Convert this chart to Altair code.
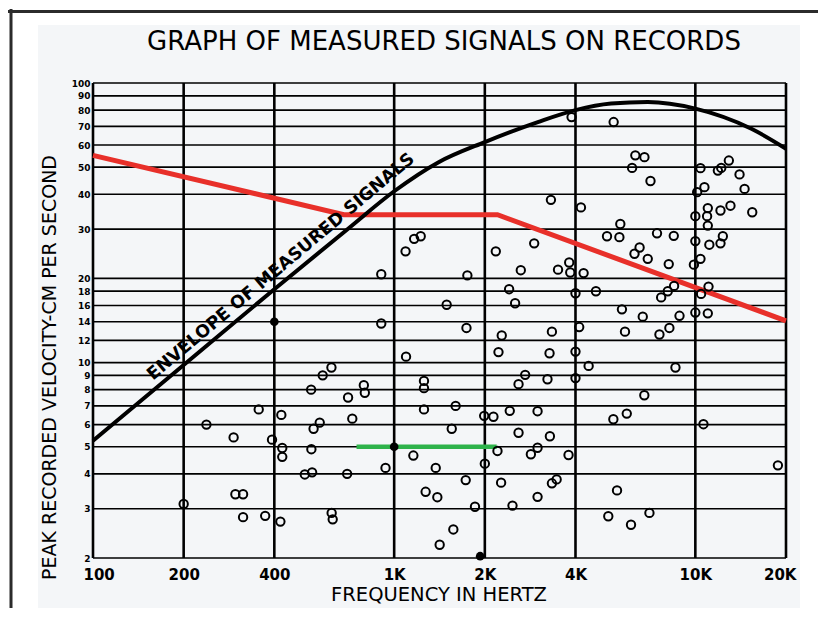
import altair as alt
import pandas as pd

# ---- measured signals (frequency in Hz, peak velocity in cm/s) ----
freq_hz = [200, 238, 293, 297, 315, 315, 355, 373, 393, 419, 422, 425, 425, 505, 531, 530, 534, 540, 566, 579,
           619, 620, 625, 698, 703, 726, 793, 799, 906, 906, 936, 1095, 1091, 1165, 1225, 1158, 1256, 1256, 1256,
           1272, 1374, 1391, 1416, 1494, 1553, 1572, 1600, 1728, 1738, 1750, 1855, 2000, 1990, 2136, 2175, 2203,
           2220, 2265, 2276, 2408, 2420, 2471, 2521, 2588, 2588, 2633, 2723, 2844, 2917, 2993, 2993, 2993, 3229,
           3280, 3289, 3315, 3340, 3340, 3463, 3500, 3793, 3812, 3843, 3882, 4000, 4000, 4000, 4115, 4170, 4256,
           4423, 4677, 5090, 5140, 5343, 5355, 5495, 5595, 5635, 5705, 5840, 5920, 6115, 6166, 6280, 6320, 6530,
           6690, 6770, 6776, 6950, 7040, 7097, 7460, 7600, 7700, 8100, 8160, 8200, 8480, 8500, 8590, 8860, 9890,
           10000, 10000, 10000, 10140, 10400, 10400, 10450, 10640, 10720, 10940, 11000, 11000, 11000, 11060,
           11130, 11880, 12120, 12120, 12190, 12340, 12920, 13080, 14020, 14570, 15450, 18800]
velocity = [3.12, 6.0, 5.4, 3.38, 3.38, 2.8, 6.8, 2.83, 5.3, 2.7, 6.5, 4.95, 4.6, 3.98, 4.9, 8.0, 4.05, 5.8, 6.1, 9.0,
            9.6, 2.9, 2.75, 4.0, 7.5, 6.3, 8.3, 7.8, 20.7, 13.8, 4.2, 10.5, 25.0, 27.7, 28.3, 4.65, 8.6, 8.1, 6.8,
            3.45, 4.2, 3.3, 2.23, 16.1, 5.8, 2.53, 7.0, 3.8, 13.3, 20.5, 3.05, 4.35, 6.45, 6.4, 25.0, 4.83,
            10.9, 3.72, 12.5, 18.3, 6.72, 3.08, 16.3, 8.37, 5.61, 21.4, 9.04, 4.70, 26.7, 6.7, 4.96, 3.31, 8.72,
            10.8, 5.45, 38.2, 12.9, 3.70, 3.82, 21.5, 4.67, 22.8, 21.0, 75.5, 17.7, 10.95, 8.8, 13.4, 35.9, 20.9,
            9.73, 18.0, 28.3, 2.82, 6.27, 72.5, 3.49, 28.1, 31.3, 15.5, 12.9, 6.57, 2.63, 49.7, 24.5, 55.1, 25.8,
            14.6, 7.64, 54.3, 23.5, 2.90, 44.6, 29.0, 12.6, 17.1, 18.0, 22.5, 13.3, 28.4, 18.8, 9.6, 14.7, 22.4,
            27.2, 33.4, 15.1, 40.7, 49.6, 23.5, 17.6, 6.02, 42.4, 33.4, 35.7, 30.9, 15.0, 18.7,
            26.4, 48.6, 26.7, 35.0, 49.7, 28.3, 52.8, 36.4, 47.1, 41.8, 34.5, 4.29]
filled_freq = [400, 1000, 1930]
filled_vel = [14.0, 5.0, 2.03]

# ---- envelope of measured signals ----
env_freq = [100, 200, 400, 700, 1000, 1400, 2000, 3000, 4000, 5250, 6950, 10000, 15350, 20000]
env_vel = [5.25, 9.8, 18.3, 30.0, 41.0, 52.0, 61.5, 72.5, 80.0, 84.4, 85.5, 81.0, 68.6, 58.2]

# ---- added red and green lines ----
red_freq = [100, 681, 2203, 20000]
red_vel = [55.1, 33.8, 33.8, 14.1]
green_freq = [750, 2190]
green_vel = [5.0, 5.0]

# ---- axes ----
x_ticks = [100, 200, 400, 1000, 2000, 4000, 10000, 20000]
x_tick_labels = ["100", "200", "400", "1K", "2K", "4K", "10K", "20K"]
y_ticks = [100, 90, 80, 70, 60, 50, 40, 30, 20, 18, 16, 14, 12, 10, 9, 8, 7, 6, 5, 4, 3, 2]

title_text = "GRAPH OF MEASURED SIGNALS ON RECORDS"
x_title = "FREQUENCY    IN    HERTZ"
y_title = "PEAK  RECORDED  VELOCITY-CM  PER  SECOND"
curve_label = "ENVELOPE  OF  MEASURED  SIGNALS"
curve_label_f = [421]
curve_label_v = [22.0]

FONT = "DejaVu Sans"
W, H = 693, 475

label_expr = "''"
for v, l in reversed(list(zip(x_ticks, x_tick_labels))):
    label_expr = f"datum.value == {v} ? '{l}' : ({label_expr})"

xs = alt.Scale(type="log", domain=[100, 20000], nice=False)
ys = alt.Scale(type="log", domain=[2, 100], nice=False)
x_axis = alt.Axis(values=x_ticks, labelExpr=label_expr, grid=False, domain=False, ticks=False,
                  labelFont=FONT, labelFontSize=15, labelFontWeight="bold", labelColor="black",
                  labelPadding=9, labelFlush=True, labelFlushOffset=10, labelOverlap=False, title=None,
                  zindex=1)
y_axis = alt.Axis(values=y_ticks, format="d", grid=False, domain=False, ticks=False, labelFont=FONT,
                  labelFontSize=9, labelFontWeight="bold", labelColor="black", labelPadding=3,
                  labelOverlap=False, title=None, zindex=1)


def X(field="f"):
    return alt.X(f"{field}:Q", scale=xs, axis=x_axis)


def Y(field="v"):
    return alt.Y(f"{field}:Q", scale=ys, axis=y_axis)


one = pd.DataFrame({"k": [0]})


def box(x0, x1, y0, y1, color):
    return alt.Chart(one).mark_rect(color=color, opacity=1).encode(
        x=alt.value(x0), x2=alt.value(x1), y=alt.value(y0), y2=alt.value(y1))


# the light scanned panel behind the chart, and the dark page frame (top and left edges)
panel = box(-55, 707, -58, 560, "#f4f6f8")
frame_left = box(-83.5, -80.5, -74, 560, "#2b2b2b")
frame_top = box(-85, 725, -73, -70, "#2b2b2b")

# grid lines (drawn as marks so the red line sits above them)
vgrid = alt.Chart(pd.DataFrame({"f": x_ticks})).mark_rule(color="black", strokeWidth=2.6).encode(x=X())
hgrid = alt.Chart(pd.DataFrame({"v": y_ticks})).mark_rule(color="black", strokeWidth=1.7).encode(y=Y())

red = alt.Chart(pd.DataFrame({"f": red_freq, "v": red_vel})).mark_line(
    color="#e8302a", strokeWidth=5).encode(x=X(), y=Y())
green = alt.Chart(pd.DataFrame({"f": green_freq, "v": green_vel})).mark_line(
    color="#2eb34b", strokeWidth=4.5).encode(x=X(), y=Y())
env = alt.Chart(pd.DataFrame({"f": env_freq, "v": env_vel})).mark_line(
    color="black", strokeWidth=4, interpolate="monotone").encode(x=X(), y=Y())

pts = alt.Chart(pd.DataFrame({"f": freq_hz, "v": velocity})).mark_point(
    shape="circle", filled=False, size=70, strokeWidth=2, color="black", opacity=1).encode(x=X(), y=Y())
dots = alt.Chart(pd.DataFrame({"f": filled_freq, "v": filled_vel})).mark_circle(
    size=75, color="black", opacity=1).encode(x=X(), y=Y())

env_text = alt.Chart(pd.DataFrame({"f": curve_label_f, "v": curve_label_v})).mark_text(
    text=curve_label, angle=320, font=FONT, fontSize=17.5, fontWeight="bold", color="black",
    align="center", baseline="middle").encode(x=X(), y=Y())

title = alt.Chart(one).mark_text(text=title_text, font=FONT, fontSize=26, color="black",
                                 align="center", baseline="middle").encode(
    x=alt.value(351), y=alt.value(-40.7))
xt = alt.Chart(one).mark_text(text=x_title, font=FONT, fontSize=19.5, color="black",
                              align="center", baseline="middle").encode(
    x=alt.value(346), y=alt.value(512))
yt = alt.Chart(one).mark_text(text=y_title, font=FONT, fontSize=19, color="black", angle=270,
                              align="center", baseline="middle").encode(
    x=alt.value(-43), y=alt.value(284.5))

chart = alt.layer(
    panel, frame_left, frame_top, vgrid, hgrid, red, green, env, pts, dots, env_text, title, xt, yt
).properties(
    width=W, height=H,
    padding={"left": 85, "top": 75, "right": 32, "bottom": 50},
    autosize=alt.AutoSizeParams(type="none"),
).configure(background="white").configure_view(stroke="black", strokeWidth=2.5)

chart.save("out.html", embed_options={"renderer": "svg", "actions": False})
